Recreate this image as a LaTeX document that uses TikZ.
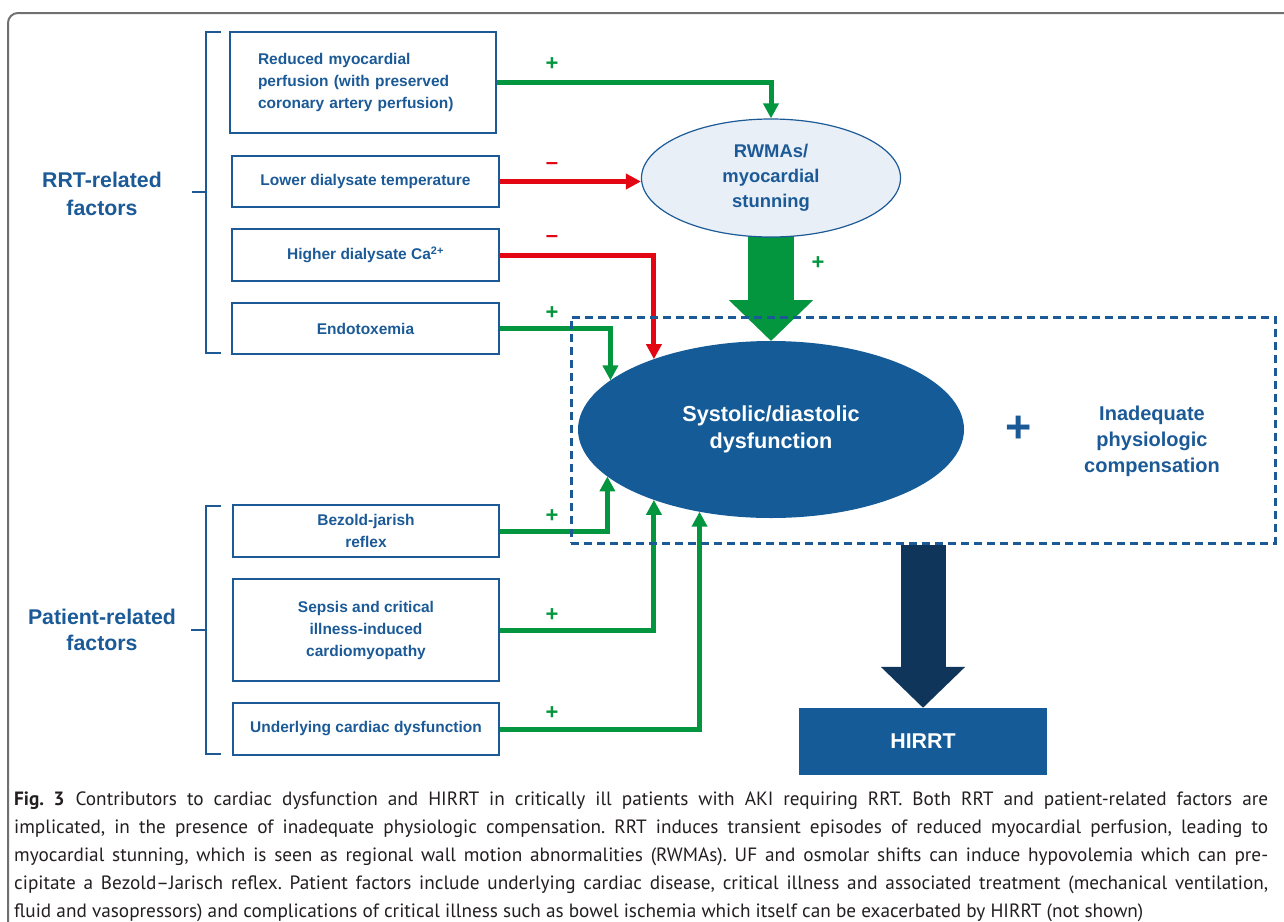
\documentclass[tikz,border=0pt]{standalone}
\usepackage{fontspec}
\setmainfont{Liberation Sans}
\newfontfamily\capfont{PT Sans}
\usetikzlibrary{arrows.meta,shapes.geometric}
\definecolor{dblue}{HTML}{1B5A96}
\definecolor{fblue}{HTML}{145B97}
\definecolor{navy}{HTML}{0F365A}
\definecolor{dgreen}{HTML}{04963F}
\definecolor{dred}{HTML}{E30613}
\definecolor{lightfill}{HTML}{E9EFF7}
\definecolor{framegray}{HTML}{707070}
\definecolor{captext}{HTML}{231F20}
\pgfdeclarelayer{background}
\pgfsetlayers{background,main}
\begin{document}
\begin{tikzpicture}[x=1pt,y=-1pt,
  factor/.style={draw=dblue, line width=2.5pt, text=dblue,
    font=\fontsize{15.5}{22}\selectfont\bfseries, align=center, inner sep=0pt,
    minimum width=267pt, minimum height=51pt},
  grp/.style={text=dblue, font=\fontsize{21.3}{28}\selectfont\bfseries, align=center, inner sep=0pt},
  brk/.style={draw=dblue, line width=1.5pt},
  garrow/.style={draw=dgreen, line width=5pt, -{Triangle[length=15pt,width=15pt]}},
  rarrow/.style={draw=dred, line width=5pt, -{Triangle[length=15pt,width=15pt]}},
  gsign/.style={text=dgreen, font=\fontsize{22}{22}\selectfont\bfseries, inner sep=0pt},
  rsign/.style={text=dred, font=\fontsize{22}{22}\selectfont\bfseries, inner sep=0pt},
  bigarrow/.style={line width=46pt, -{Triangle[length=41pt,width=82pt]}}
]
\useasboundingbox (0,0) rectangle (1284,921);
% frame
\draw[framegray, line width=2pt, rounded corners=10pt] (1290,13) -- (8,13) -- (8,930);

% group labels and brackets
\node[grp] (rrt) at (102,194) {RRT-related\\factors};
\node[grp, font=\fontsize{21.3}{26}\selectfont\bfseries] (pat) at (102,630) {Patient-related\\factors};
\draw[brk] (221,32) -- (206,32) -- (206,353) -- (221,353);
\draw[brk] (206,192) -- (192,192);
\draw[brk] (221,506) -- (206,506) -- (206,754) -- (221,754);
\draw[brk] (206,630) -- (191,630);

% factor boxes
\node[factor, align=left, text width=210pt, inner xsep=28pt, minimum width=266pt, minimum height=101pt] (b1) at (363,82.5)
  {Reduced myocardial\\perfusion (with preserved\\coronary artery perfusion)};
\node[factor] (b2) at (365.5,181.5) {Lower dialysate temperature};
\node[factor, minimum height=52pt] (b3) at (365.5,255) {Higher dialysate Ca\textsuperscript{2+}};
\node[factor] (b4) at (365.5,328.5) {Endotoxemia};
\node[factor, minimum width=266pt, minimum height=52pt] (b5) at (366,531) {Bezold-jarish\\reflex};
\node[factor, minimum width=266pt, minimum height=102pt] (b6) at (366,630) {Sepsis and critical\\illness-induced\\cardiomyopathy};
\node[factor, minimum width=266pt, minimum height=52pt] (b7) at (366,729) {Underlying cardiac dysfunction};

% ellipses
\node[ellipse, draw=dblue, line width=1.2pt, fill=lightfill, minimum width=259pt, minimum height=118pt,
  inner sep=0pt, text=dblue, font=\fontsize{18.4}{25}\selectfont\bfseries, align=center] (rw) at (771,178)
  {RWMAs/\\myocardial\\stunning};
\node[ellipse, fill=fblue, minimum width=386pt, minimum height=177pt, inner sep=0pt, outer sep=0pt,
  text=white, font=\fontsize{21.7}{27}\selectfont\bfseries, align=center] (sd) at (771,429.5)
  {Systolic/diastolic\\dysfunction};

\node[text=dblue, font=\fontsize{45}{45}\selectfont\bfseries, inner sep=0pt] (plus) at (1018.5,429) {+};
\node[text=dblue, font=\fontsize{20}{26}\selectfont\bfseries, align=center, inner sep=0pt] (inad) at (1152,441)
  {Inadequate\\physiologic\\compensation};

% HIRRT
\node[fill=fblue, minimum width=248pt, minimum height=67pt, text=white,
  font=\fontsize{21.4}{26}\selectfont\bfseries] (hirrt) at (923,741.5) {HIRRT};

% big arrows
\begin{pgfonlayer}{background}
\draw[bigarrow, draw=dgreen, fill=dgreen] (rw.center) -- (sd.north);
\end{pgfonlayer}

% thin arrows
\draw[garrow] (b1.east) -| (rw.north);
\draw[rarrow] (b2.east) -- (rw.west |- b2.east);
\draw[rarrow] (b3.east) -| (sd.149);
\draw[garrow] (b4.east) -| (sd.163.8);
\draw[garrow] (b5.east) -| (sd.196.2);
\draw[garrow] (b6.east) -| (sd.211.4);
\draw[garrow] (b7.east) -| (sd.229.2);

% dashed compensation box
\node[draw=dblue, line width=3pt, dash pattern=on 8pt off 5pt, minimum width=704pt, minimum height=226pt,
  inner sep=0pt] (comp) at (923,430) {};
\draw[bigarrow, line width=45pt, draw=navy, fill=navy] (comp.south) -- (hirrt.north);

% signs
\node[gsign] (s1) at (552,64) {+};
\node[rsign] (s2) at (552,166) {–};
\node[rsign] (s3) at (552,239) {–};
\node[gsign] (s4) at (552,313) {+};
\node[gsign] (s5) at (818,263) {+};
\node[gsign] (s6) at (552,516) {+};
\node[gsign] (s7) at (552,615) {+};
\node[gsign] (s8) at (552,713) {+};

% caption
\node[anchor=north west, text width=1254pt, inner sep=0pt, align=justify, text=captext,
  font=\capfont\fontsize{19.25}{28}\selectfont] (cap) at (14,792)
{\frenchspacing\hyphenpenalty=10000\tolerance=10000\emergencystretch=20pt
\textbf{Fig.~3}\hspace{11pt}Contributors to cardiac dysfunction and HIRRT in critically ill patients with AKI requiring RRT. Both RRT and patient-related factors are\linebreak
implicated, in the presence of inadequate physiologic compensation. RRT induces transient episodes of reduced myocardial perfusion, leading to\linebreak
myocardial stunning, which is seen as regional wall motion abnormalities (RWMAs). UF and osmolar shifts can induce hypovolemia which can pre-\linebreak
cipitate a Bezold–Jarisch reflex. Patient factors include underlying cardiac disease, critical illness and associated treatment (mechanical ventilation,\linebreak
fluid and vasopressors) and complications of critical illness such as bowel ischemia which itself can be exacerbated by HIRRT (not shown)};
\end{tikzpicture}
\end{document}
